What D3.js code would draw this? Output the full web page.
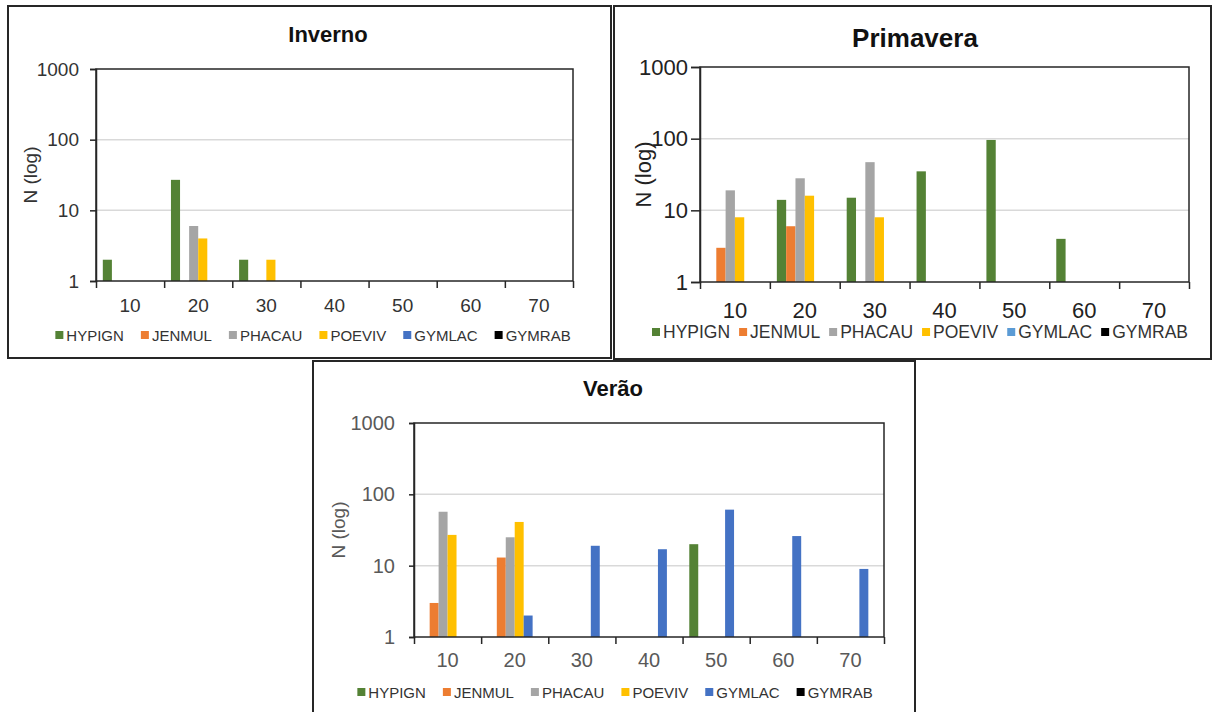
<!DOCTYPE html>
<html>
<head>
<meta charset="utf-8">
<script src="https://cdn.jsdelivr.net/npm/d3@7"></script>
<style>
  body { margin: 0; background: #fff; }
  svg { display: block; font-family: "Liberation Sans", Arial, sans-serif; }
</style>
</head>
<body>
<svg id="chart" width="1217" height="712"></svg>
<script>
// dados
const categories = ["10", "20", "30", "40", "50", "60", "70"];
const species = ["HYPIGN", "JENMUL", "PHACAU", "POEVIV", "GYMLAC", "GYMRAB"];
const yTicks = [1, 10, 100, 1000];

// uma linha por espécie, uma coluna por classe
const inverno = [
  [2, 27, 2, 0, 0, 0, 0],
  [0, 0, 0, 0, 0, 0, 0],
  [0, 6, 0, 0, 0, 0, 0],
  [0, 4, 2, 0, 0, 0, 0],
  [0, 0, 0, 0, 0, 0, 0],
  [0, 0, 0, 0, 0, 0, 0],
];
const primavera = [
  [0, 14, 15, 35, 96, 4, 0],
  [3, 6, 0, 0, 0, 0, 0],
  [19, 28, 47, 0, 0, 0, 0],
  [8, 16, 8, 0, 0, 0, 0],
  [0, 0, 0, 0, 0, 0, 0],
  [0, 0, 0, 0, 0, 0, 0],
];
const verao = [
  [0, 0, 0, 0, 20, 0, 0],
  [3, 13, 0, 0, 0, 0, 0],
  [57, 25, 0, 0, 0, 0, 0],
  [27, 41, 0, 0, 0, 0, 0],
  [0, 2, 19, 17, 61, 26, 9],
  [0, 0, 0, 0, 0, 0, 0],
];

const svg = d3.select("#chart");

const panels = [
  {
    title: "Inverno", values: inverno,
    box: [8, 6, 611, 358], plot: [96, 69, 573, 281],
    titleX: 328, titleY: 42, titleSize: 22,
    tickSize: 19, tickColor: "#333", tickLen: 6, tickPad: 11, labelX: 30, labelSize: 19,
    xLabelY: 312, legendY: 335, legendCx: 313, legendSize: 15, legendGap: 17, sw: 8,
    colors: ["#548235", "#ED7D31", "#A5A5A5", "#FFC000", "#4472C4", "#000"],
  },
  {
    title: "Primavera", values: primavera,
    box: [614, 6, 1211, 359], plot: [700, 67, 1189, 282],
    titleX: 915, titleY: 47, titleSize: 26,
    tickSize: 22, tickColor: "#222", tickLen: 9, tickPad: 3, labelX: 643, labelSize: 22,
    xLabelY: 318, legendY: 332, legendCx: 920, legendSize: 17.5, legendGap: 9, sw: 8,
    colors: ["#548235", "#ED7D31", "#A5A5A5", "#FFC000", "#5B9BD5", "#000"],
  },
  {
    title: "Verão", values: verao,
    box: [313, 361, 915, 730], plot: [414, 423, 884, 637],
    titleX: 613, titleY: 396, titleSize: 22,
    tickSize: 20, tickColor: "#595959", tickLen: 5, tickPad: 14, labelX: 338, labelSize: 19,
    xLabelY: 667, legendY: 692, legendCx: 615, legendSize: 15, legendGap: 17, sw: 8,
    colors: ["#548235", "#ED7D31", "#A5A5A5", "#FFC000", "#4472C4", "#000"],
  },
];

panels.forEach(drawPanel);

function drawPanel(p) {
  const [bx0, by0, bx1, by1] = p.box;
  const [left, top, right, bottom] = p.plot;
  const g = svg.append("g");

  g.append("rect")
    .attr("x", bx0).attr("y", by0)
    .attr("width", bx1 - bx0).attr("height", by1 - by0)
    .attr("fill", "#fff").attr("stroke", "#262626").attr("stroke-width", 2);

  g.append("text")
    .attr("x", p.titleX).attr("y", p.titleY)
    .attr("text-anchor", "middle")
    .attr("font-size", p.titleSize).attr("font-weight", "bold")
    .attr("fill", "#111")
    .text(p.title);

  // escalas
  const x0 = d3.scaleBand().domain(categories).range([left, right]).padding(0);
  const x1 = d3.scaleBand().domain(species).range([0, x0.bandwidth()])
    .paddingInner(0).paddingOuter(0.75);
  const y = d3.scaleLog().domain([1, 1000]).range([bottom, top]);
  const xEdge = d3.scaleLinear().domain([0, categories.length]).range([left, right]);

  // grade
  g.append("g")
    .selectAll("line")
    .data(yTicks.slice(1, -1))
    .join("line")
    .attr("x1", left).attr("x2", right)
    .attr("y1", (d) => y(d)).attr("y2", (d) => y(d))
    .attr("stroke", "#d9d9d9").attr("stroke-width", 1.5);

  // barras
  const bars = [];
  p.values.forEach((row, si) => {
    row.forEach((v, ci) => {
      if (v > 0) bars.push({ sp: species[si], cat: categories[ci], v, color: p.colors[si] });
    });
  });
  g.append("g")
    .selectAll("rect")
    .data(bars)
    .join("rect")
    .attr("x", (d) => x0(d.cat) + x1(d.sp))
    .attr("width", x1.bandwidth())
    .attr("y", (d) => y(d.v))
    .attr("height", (d) => y(1) - y(d.v))
    .attr("fill", (d) => d.color);

  // moldura da área de plotagem
  g.append("rect")
    .attr("x", left).attr("y", top)
    .attr("width", right - left).attr("height", bottom - top)
    .attr("fill", "none").attr("stroke", "#262626").attr("stroke-width", 1.5);

  // eixo y
  g.append("g")
    .attr("transform", `translate(${left},0)`)
    .call(d3.axisLeft(y).tickValues(yTicks).tickFormat(d3.format("d"))
      .tickSize(p.tickLen).tickPadding(p.tickPad))
    .call((a) => a.select(".domain").attr("stroke", "#262626").attr("stroke-width", 1.5))
    .call((a) => a.selectAll(".tick line").attr("stroke", "#262626").attr("stroke-width", 1.5))
    .call((a) => a.selectAll("text")
      .attr("font-size", p.tickSize).attr("fill", p.tickColor)
      .attr("font-family", "\"Liberation Sans\", Arial, sans-serif"));

  // eixo x: marcas nas divisas das classes
  g.append("g")
    .attr("transform", `translate(0,${bottom})`)
    .call(d3.axisBottom(xEdge).ticks(categories.length).tickFormat("").tickSize(7))
    .call((a) => a.select(".domain").remove())
    .call((a) => a.selectAll(".tick line").attr("stroke", "#262626").attr("stroke-width", 1.5));

  g.append("g")
    .selectAll("text")
    .data(categories)
    .join("text")
    .attr("x", (d) => x0(d) + x0.bandwidth() / 2)
    .attr("y", p.xLabelY)
    .attr("text-anchor", "middle")
    .attr("font-size", p.tickSize).attr("fill", p.tickColor)
    .text((d) => d);

  // título do eixo y
  g.append("text")
    .attr("transform", `translate(${p.labelX},${(top + bottom) / 2}) rotate(-90)`)
    .attr("text-anchor", "middle")
    .attr("dominant-baseline", "central")
    .attr("font-size", p.labelSize).attr("fill", p.tickColor)
    .text("N (log)");

  // legenda
  const leg = g.append("g");
  const items = leg.selectAll("g")
    .data(species)
    .join("g");
  items.append("rect")
    .attr("width", p.sw).attr("height", p.sw)
    .attr("y", p.legendY - p.sw / 2)
    .attr("fill", (d, i) => p.colors[i]);
  items.append("text")
    .attr("x", p.sw + 3)
    .attr("y", p.legendY)
    .attr("dominant-baseline", "central")
    .attr("font-size", p.legendSize).attr("fill", "#333")
    .text((d) => d);

  const widths = [];
  items.each(function () {
    widths.push(p.sw + 3 + d3.select(this).select("text").node().getComputedTextLength());
  });
  const total = d3.sum(widths) + p.legendGap * (widths.length - 1);
  let cx = p.legendCx - total / 2;
  items.attr("transform", (d, i) => {
    const t = `translate(${cx},0)`;
    cx += widths[i] + p.legendGap;
    return t;
  });
}
</script>
</body>
</html>
